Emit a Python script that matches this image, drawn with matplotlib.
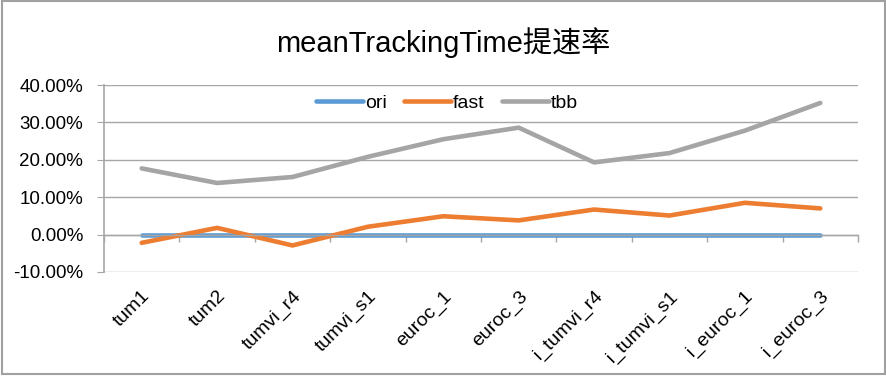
import matplotlib
matplotlib.use("Agg")
import matplotlib.pyplot as plt
from matplotlib.ticker import FuncFormatter, MultipleLocator, FixedLocator
from matplotlib.patches import Rectangle
import numpy as np

plt.rcParams['font.family'] = ['Liberation Sans', 'Noto Sans CJK SC', 'DejaVu Sans']

categories = ["tum1", "tum2", "tumvi_r4", "tumvi_s1", "euroc_1", "euroc_3",
              "i_tumvi_r4", "i_tumvi_s1", "i_euroc_1", "i_euroc_3"]
ori = [0, 0, 0, 0, 0, 0, 0, 0, 0, 0]
fast = [-0.022, 0.018, -0.029, 0.021, 0.049, 0.038, 0.067, 0.051, 0.085, 0.070]
tbb = [0.177, 0.138, 0.154, 0.208, 0.255, 0.286, 0.193, 0.218, 0.278, 0.352]
title = "meanTrackingTime提速率"

fig = plt.figure(figsize=(8.87, 3.76), dpi=100)
ax = fig.add_axes([104/887, 1-272/376, (858-104)/887, (272-85)/376])

x = np.arange(len(categories))
lw = 3.3
ax.plot(x, ori, color='#5B9BD5', lw=lw, solid_capstyle='round', label='ori')
ax.plot(x, fast, color='#ED7D31', lw=lw, solid_capstyle='round', label='fast')
ax.plot(x, tbb, color='#A5A5A5', lw=lw, solid_capstyle='round', label='tbb')

ax.set_xlim(-0.5, len(categories) - 0.5)
ax.set_ylim(-0.10, 0.40)
ax.yaxis.set_major_locator(MultipleLocator(0.10))
ax.yaxis.set_major_formatter(FuncFormatter(lambda v, p: f"{v*100:.2f}%"))
ax.grid(axis='y', color='#A6A6A6', lw=1)
ax.set_axisbelow(True)

for s in ['top', 'right']:
    ax.spines[s].set_visible(False)
ax.spines['left'].set_color('#A6A6A6')
ax.spines['left'].set_linewidth(1.2)
ax.spines['bottom'].set_position(('data', 0))
ax.spines['bottom'].set_color('#A6A6A6')
ax.spines['bottom'].set_linewidth(1)

ax.tick_params(axis='y', length=5, color='#A6A6A6', labelsize=13.5, pad=10)
ax.xaxis.set_major_locator(FixedLocator(x))
ax.set_xticklabels(categories, rotation=45, ha='right', rotation_mode='anchor', fontsize=14)
ax.tick_params(axis='x', which='major', length=0, pad=38)
ax.xaxis.set_minor_locator(FixedLocator(np.arange(len(categories) + 1) - 0.5))
ax.tick_params(axis='x', which='minor', length=5, color='#A6A6A6', width=1)

leg = ax.legend(loc='upper center', bbox_to_anchor=(0.455, 1.045), ncol=3, frameon=False,
                fontsize=14, handlelength=2.4, handletextpad=0.1, columnspacing=0.9)

fig.text(443/887, 1-43/376, title, ha='center', va='center', fontsize=21)

fig.patches.append(Rectangle((0.002, 0.005), 0.996, 0.993, transform=fig.transFigure,
                             fill=False, edgecolor='#A0A0A0', lw=1.5))

fig.savefig("out.png", dpi=100)
